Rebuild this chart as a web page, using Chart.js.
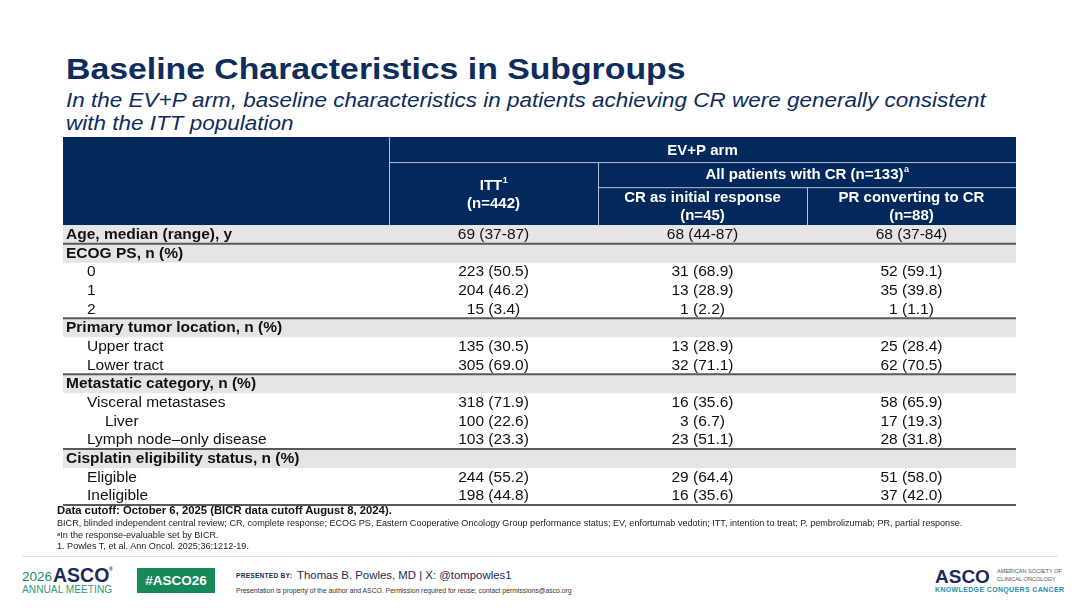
<!DOCTYPE html>
<html><head><meta charset="utf-8">
<script src="https://cdn.jsdelivr.net/npm/chart.js@4.4.1/dist/chart.umd.min.js"></script>
<style>
html,body{margin:0;padding:0;}
body{width:1080px;height:608px;background:#fff;position:relative;overflow:hidden;font-family:'Liberation Sans',Arial,sans-serif;}
.abs{position:absolute;white-space:nowrap;line-height:1;}
#title{left:66px;top:54px;font-size:29.5px;font-weight:bold;color:#0e2c5c;transform:scaleX(1.145);transform-origin:0 0;}
#sub{left:66px;top:88px;font-size:20.5px;font-style:italic;color:#0e2c5c;line-height:23px;transform:scaleX(1.097);transform-origin:0 0;}
#wrap{position:absolute;left:63px;top:137px;width:953px;height:372px;}
.fn{left:57px;color:#222;}
#cut{top:505px;font-size:11.3px;font-weight:bold;color:#111;}
#abbr{top:519px;font-size:9.1px;}
#anote{top:531px;font-size:9.1px;}
#ref{top:542px;font-size:9.1px;}
#sep{position:absolute;left:22px;top:556px;width:1036px;height:1px;background:#e2e2e2;}
</style></head>
<body>
<div id="title" class="abs">Baseline Characteristics in Subgroups</div>
<div id="sub" class="abs">In the EV+P arm, baseline characteristics in patients achieving CR were generally consistent<br>with the ITT population</div>
<div id="wrap"><canvas id="c"></canvas></div>
<div id="cut" class="abs fn">Data cutoff: October 6, 2025 (BICR data cutoff August 8, 2024).</div>
<div id="abbr" class="abs fn">BICR, blinded independent central review; CR, complete response; ECOG PS, Eastern Cooperative Oncology Group performance status; EV, enfortumab vedotin; ITT, intention to treat; P, pembrolizumab; PR, partial response.</div>
<div id="anote" class="abs fn"><sup style="font-size:6px;vertical-align:2px">a</sup>In the response-evaluable set by BICR.</div>
<div id="ref" class="abs fn">1. Powles T, et al. Ann Oncol. 2025;36:1212-19.</div>
<div id="sep"></div>

<!-- footer -->
<div class="abs" style="left:22px;top:570px;font-size:13.5px;color:#1f8a6b;">2026</div>
<div class="abs" style="left:53px;top:566px;font-size:19.5px;font-weight:bold;color:#1b2a5c;">ASCO<span style="font-size:4.5px;vertical-align:11px;">®</span></div>
<div class="abs" style="left:22px;top:585px;font-size:10.2px;color:#2e9b7c;">ANNUAL MEETING</div>
<div class="abs" style="left:137px;top:568px;width:78px;height:25px;background:#16885a;color:#fff;font-weight:bold;font-size:13.5px;line-height:25px;text-align:center;">#ASCO26</div>
<div class="abs" style="left:236px;top:573px;font-size:6.5px;font-weight:bold;color:#1b2a4c;letter-spacing:0.3px;">PRESENTED BY:</div>
<div class="abs" style="left:297px;top:570px;font-size:11.4px;color:#1b2a4c;">Thomas B. Powles, MD | X: @tompowles1</div>
<div class="abs" style="left:236px;top:588px;font-size:6.8px;color:#333;">Presentation is property of the author and ASCO. Permission required for reuse; contact permissions@asco.org</div>
<div class="abs" style="left:935px;top:567px;font-size:19px;font-weight:bold;color:#1b2a5c;">ASCO</div>
<div class="abs" style="left:997px;top:568px;font-size:5.6px;color:#555;line-height:7.5px;">AMERICAN SOCIETY OF<br>CLINICAL ONCOLOGY</div>
<div class="abs" style="left:935px;top:586px;font-size:7px;font-weight:bold;color:#2b8ea8;letter-spacing:0.35px;">KNOWLEDGE CONQUERS CANCER</div>

<script>
// ---- data ----
const rowLabels = ['Age, median (range), y','ECOG PS, n (%)','0','1','2','Primary tumor location, n (%)','Upper tract','Lower tract','Metastatic category, n (%)','Visceral metastases','Liver','Lymph node\u2013only disease','Cisplatin eligibility status, n (%)','Eligible','Ineligible'];
const rowLevels = [0,0,1,1,1,0,1,1,0,1,2,1,0,1,1];
const ittValues = ['69 (37-87)','','223 (50.5)','204 (46.2)','15 (3.4)','','135 (30.5)','305 (69.0)','','318 (71.9)','100 (22.6)','103 (23.3)','','244 (55.2)','198 (44.8)'];
const crInitialValues = ['68 (44-87)','','31 (68.9)','13 (28.9)','1 (2.2)','','13 (28.9)','32 (71.1)','','16 (35.6)','3 (6.7)','23 (51.1)','','29 (64.4)','16 (35.6)'];
const prConvertingValues = ['68 (37-84)','','52 (59.1)','35 (39.8)','1 (1.1)','','25 (28.4)','62 (70.5)','','58 (65.9)','17 (19.3)','28 (31.8)','','51 (58.0)','37 (42.0)'];
const shadedRows = [1,1,0,0,0,1,0,0,1,0,0,0,1,0,0];
const sectionEndRows = [0,4,7,11,14];
const headerArm = 'EV+P arm';
const headerITT = ['ITT', '1', '(n=442)'];
const headerAllCR = ['All patients with CR (n=133)', 'a'];
const headerCRInitial = ['CR as initial response', '(n=45)'];
const headerPRConverting = ['PR converting to CR', '(n=88)'];

const FONT = "'Liberation Sans', Arial, sans-serif";
const X_MIN = -1.56, X_MAX = 3;

const tablePlugin = {
  id: 'tableText',
  afterDatasetsDraw(chart) {
    const {ctx, chartArea: ca, scales: {x, y}} = chart;
    const L = x.getPixelForValue(X_MIN), R = x.getPixelForValue(X_MAX);
    const e0 = x.getPixelForValue(0), e1 = x.getPixelForValue(1), e2 = x.getPixelForValue(2);
    const cx = [x.getPixelForValue(0.5), x.getPixelForValue(1.5), x.getPixelForValue(2.5)];
    const step = y.getPixelForValue(1) - y.getPixelForValue(0);
    ctx.save();
    // header block
    const hB = ca.top, hH = hB;
    ctx.fillStyle = '#03295c';
    ctx.fillRect(L, 0, R - L, hB);
    const r1 = hH * 0.285, r2 = hH * 0.57;
    ctx.strokeStyle = '#b4c2d6';
    ctx.lineWidth = 1;
    ctx.beginPath();
    ctx.moveTo(e0 + 0.5, 0); ctx.lineTo(e0 + 0.5, hB);
    ctx.moveTo(e0, r1 + 0.5); ctx.lineTo(R, r1 + 0.5);
    ctx.moveTo(e1, r2 + 0.5); ctx.lineTo(R, r2 + 0.5);
    ctx.moveTo(e1 + 0.5, r1); ctx.lineTo(e1 + 0.5, hB);
    ctx.moveTo(e2 + 0.5, r2); ctx.lineTo(e2 + 0.5, hB);
    ctx.stroke();

    ctx.fillStyle = '#ffffff';
    ctx.textBaseline = 'middle';
    ctx.textAlign = 'center';
    const hf = 'bold 15px ' + FONT;
    const sf = 'bold 9px ' + FONT;
    ctx.font = hf;
    ctx.fillText(headerArm, (e0 + R) / 2, r1 / 2 + 1);
    const sup = (main, s, mx, my) => {
      ctx.font = hf; const w1 = ctx.measureText(main).width;
      ctx.font = sf; const w2 = ctx.measureText(s).width;
      const sx = mx - (w1 + w2) / 2;
      ctx.textAlign = 'left';
      ctx.font = hf; ctx.fillText(main, sx, my);
      ctx.font = sf; ctx.fillText(s, sx + w1 + 0.5, my - 5);
      ctx.textAlign = 'center';
    };
    sup(headerAllCR[0], headerAllCR[1], (e1 + R) / 2, (r1 + r2) / 2);
    sup(headerITT[0], headerITT[1], cx[0], (r1 + hB) / 2 - 8);
    ctx.font = hf;
    ctx.fillText(headerITT[2], cx[0], (r1 + hB) / 2 + 10);
    ctx.fillText(headerCRInitial[0], cx[1], (r2 + hB) / 2 - 8);
    ctx.fillText(headerCRInitial[1], cx[1], (r2 + hB) / 2 + 10);
    ctx.fillText(headerPRConverting[0], cx[2], (r2 + hB) / 2 - 8);
    ctx.fillText(headerPRConverting[1], cx[2], (r2 + hB) / 2 + 10);

    // body text
    const indents = [3, 24, 42];
    rowLabels.forEach((lab, i) => {
      const yy = y.getPixelForValue(i) + 0.5;
      ctx.fillStyle = '#111111';
      ctx.textAlign = 'left';
      ctx.font = (rowLevels[i] === 0 ? 'bold ' : '') + '15.5px ' + FONT;
      ctx.fillText(lab, L + indents[rowLevels[i]], yy);
      ctx.textAlign = 'center';
      ctx.font = '15.5px ' + FONT;
      [ittValues, crInitialValues, prConvertingValues].forEach((arr, k) => {
        if (arr[i]) ctx.fillText(arr[i], cx[k], yy);
      });
    });
    // section rules
    ctx.strokeStyle = '#5a5a5a';
    ctx.lineWidth = 2;
    ctx.beginPath();
    sectionEndRows.forEach(r => {
      const yy = y.getPixelForValue(r) + step / 2;
      ctx.moveTo(L, yy); ctx.lineTo(R, yy);
    });
    ctx.stroke();
    ctx.restore();
  }
};

new Chart(document.getElementById('c'), {
  type: 'bar',
  data: {
    labels: rowLabels,
    datasets: [{
      data: shadedRows.map(s => s ? [X_MIN, X_MAX] : null),
      backgroundColor: '#e6e5e5',
      borderWidth: 0,
      barPercentage: 1,
      categoryPercentage: 1
    }]
  },
  options: {
    indexAxis: 'y',
    responsive: true,
    maintainAspectRatio: false,
    animation: false,
    events: [],
    layout: { padding: { top: 88, bottom: 4, left: 0, right: 0 } },
    plugins: { legend: { display: false }, tooltip: { enabled: false } },
    scales: {
      x: { type: 'linear', min: X_MIN, max: X_MAX, display: false },
      y: { type: 'category', display: false }
    }
  },
  plugins: [tablePlugin]
});
</script>
</body></html>
